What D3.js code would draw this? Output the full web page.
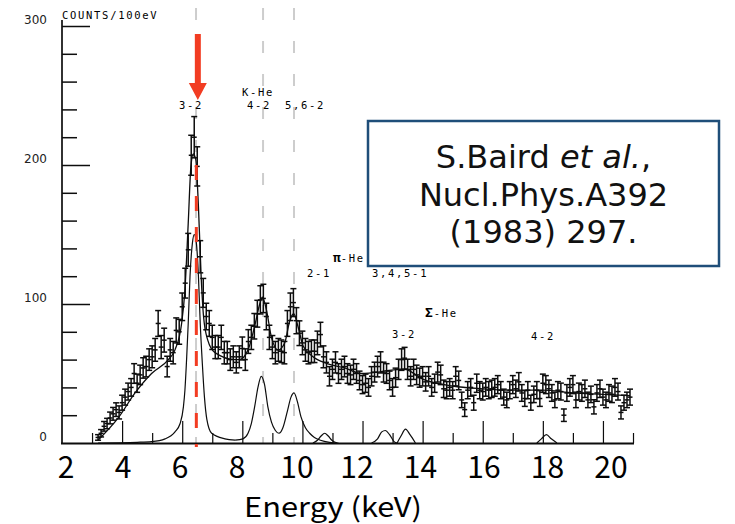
<!DOCTYPE html>
<html><head><meta charset="utf-8">
<script src="https://cdn.jsdelivr.net/npm/d3@7"></script>
<style>body{margin:0;background:#fff}svg{display:block}</style>
</head><body>
<svg id="c" width="735" height="524"></svg>
<script>
// ---------- data ----------
const energies = [
 3.2,3.3,3.4,3.5,3.6,3.7,3.8,3.9,
 4.0,4.1,4.2,4.3,4.4,4.5,4.6,4.7,4.8,4.9,
 5.0,5.1,5.2,5.3,5.4,5.5,5.6,5.7,5.8,5.9,
 6.0,6.1,6.2,6.3,6.4,6.5,6.6,6.7,6.8,6.9,
 7.0,7.1,7.2,7.3,7.4,7.5,7.6,7.7,7.8,7.9,
 8.0,8.1,8.2,8.3,8.4,8.5,8.6,8.7,8.8,8.9,
 9.0,9.1,9.2,9.3,9.4,9.5,9.6,9.7,9.8,9.9,
 10.0,10.1,10.2,10.3,10.4,10.5,10.6,10.7,10.8,10.9,
 11.0,11.1,11.2,11.3,11.4,11.5,11.6,11.7,11.8,11.9,
 12.0,12.1,12.2,12.3,12.4,12.5,12.6,12.7,12.8,12.9,
 13.0,13.1,13.2,13.3,13.4,13.5,13.6,13.7,13.8,13.9,
 14.0,14.1,14.2,14.3,14.4,14.5,14.6,14.7,14.8,14.9,
 15.0,15.1,15.2,15.3,15.4,15.5,15.6,15.7,15.8,15.9,
 16.0,16.1,16.2,16.3,16.4,16.5,16.6,16.7,16.8,16.9,
 17.0,17.1,17.2,17.3,17.4,17.5,17.6,17.7,17.8,17.9,
 18.0,18.1,18.2,18.3,18.4,18.5,18.6,18.7,18.8,18.9,
 19.0,19.1,19.2,19.3,19.4,19.5,19.6,19.7,19.8,19.9,
 20.0,20.1,20.2,20.3,20.4,20.5,20.6,20.7,20.8,20.9];
const counts = [
 4,7,12,14,18,21,24,22,
 29,33,37,40,50,43,49,54,55,60,
 62,67,86,69,74,55,67,65,81,80,
 98,115,139,207,220,199,134,108,91,86,
 76,69,69,76,65,65,60,62,58,62,
 68,60,73,76,84,93,103,104,91,76,
 69,65,67,66,65,86,98,101,88,79,
 72,67,65,66,66,72,78,62,58,48,
 53,58,50,53,55,50,49,53,50,45,
 42,43,40,48,51,55,58,51,50,45,
 40,47,53,60,61,53,48,53,49,47,
 48,44,48,40,43,51,49,39,38,40,
 38,48,45,31,24,38,40,29,43,38,
 37,40,38,39,40,42,38,33,31,38,
 42,39,44,36,32,38,29,35,38,32,
 43,42,39,36,31,38,37,20,36,40,
 42,31,37,36,39,31,35,26,36,39,
 33,31,36,35,40,37,22,29,31,33];

// total fit curve [keV, counts]
const fitTotal = [[3.2,2],[3.87,18],[4.43,36],[4.98,50],[5.54,60],[5.76,67],[5.98,86],[6.09,110],
 [6.2,158],[6.29,199],[6.37,208],[6.45,204],[6.54,170],[6.63,120],[6.71,91],[6.85,74],[7.09,65],
 [7.76,60],[7.9,60],[8.19,67],[8.41,84],[8.58,100],[8.67,105],[8.8,96],[8.97,76],[9.19,67],[9.41,72],
 [9.58,88],[9.71,93],[9.85,84],[10.02,70],[10.3,63],[10.85,57],[11.41,54],[11.96,50],[12.52,51],
 [12.8,52],[13.4,53],[14,46],[15,41],[16,39],[17,38],[18,38],[19,36],[20,35],[20.9,34]];

// fitted line components [keV, counts]
const compK32 = [[3.2,0],[4.5,0.5],[4.98,1],[5.43,3],[5.76,8],[5.93,14],[6.04,26],[6.09,38],[6.15,62],
 [6.2,86],[6.26,120],[6.34,144],[6.40,150],[6.47,144],[6.54,120],[6.60,86],[6.67,57],[6.74,33],
 [6.82,17],[6.98,7],[7.42,3],[7.76,2]];
const compK4256 = [[7.76,2],[8.02,3],[8.19,7],[8.3,14],[8.41,26],[8.52,40],[8.63,48],[8.74,42],[8.85,26],
 [8.97,15],[9.1,9],[9.22,7],[9.35,11],[9.5,23],[9.62,33],[9.72,36],[9.83,30],[9.95,19],[10.1,11],
 [10.24,7],[10.4,4],[10.6,2],[10.9,0.5],[11.2,0]];
const compPi21 = [[10.35,0],[10.5,2],[10.62,5],[10.74,7],[10.86,5],[10.98,2],[11.15,0]];
const compSig32a = [[12.3,0],[12.5,3],[12.64,8],[12.76,9],[12.9,6],[13.05,1],[13.15,0]];
const compSig32b = [[13.15,0],[13.28,5],[13.43,10],[13.58,6],[13.76,0]];
const compSig42 = [[17.8,0],[17.95,3],[18.12,6],[18.28,3],[18.47,0]];

const transitionLines = [6.46, 8.69, 9.72];   // gray guide lines (keV)
const markedLine = 6.47;                         // red dashed line (keV)
const yMajorTicks = [100, 200, 300];
const yMinorTicks = [20,40,60,80,120,140,160,180,220,240,260,280];
const yTickLabels = [0, 100, 200, 300];
const xLongTicks = [4,6,8,10,12,14,16,18,20];
const xShortTicks = [3,5,7,9,11,13,15,17,19,21];
const xTickLabels = [2,4,6,8,10,12,14,16,18,20];

// ---------- drawing ----------
const svg = d3.select("#c");
const x = d3.scaleLinear().domain([2, 21]).range([62, 633]);
const y = d3.scaleLinear().domain([0, 300]).range([443, 26]);
// slide's own energy labels sit at slightly different positions
const xLab = d3.scaleLinear().domain([2, 8, 12, 20]).range([66, 237, 357, 611]);

// gray guide lines
svg.append("g").selectAll("line").data(transitionLines).join("line")
  .attr("x1", d => x(d)).attr("x2", d => x(d)).attr("y1", 8).attr("y2", 443)
  .attr("stroke", "#cdcdcd").attr("stroke-width", 2).attr("stroke-dasharray", "12,21");

// axes of the scan
const ink = "#0d0d0d";
const gy1 = svg.append("g").attr("transform", "translate(62,0)")
  .call(d3.axisRight(y).tickValues(yMajorTicks).tickSize(28).tickSizeOuter(0).tickFormat(""));
const gy2 = svg.append("g").attr("transform", "translate(62,0)")
  .call(d3.axisRight(y).tickValues(yMinorTicks).tickSize(15).tickSizeOuter(0).tickFormat(""));
[gy1, gy2].forEach(g => { g.select(".domain").remove(); g.selectAll("line").attr("stroke", ink).attr("stroke-width", 1.5); });
svg.append("line").attr("x1", 62).attr("x2", 62).attr("y1", 20).attr("y2", 444)
  .attr("stroke", ink).attr("stroke-width", 1.7);

const gx1 = svg.append("g").attr("transform", "translate(0,443)")
  .call(d3.axisTop(x).tickValues(xLongTicks).tickSize(22).tickSizeOuter(0).tickFormat(""));
const gx2 = svg.append("g").attr("transform", "translate(0,443)")
  .call(d3.axisTop(x).tickValues(xShortTicks).tickSize(10).tickSizeOuter(0).tickFormat(""));
[gx1, gx2].forEach(g => { g.select(".domain").remove(); g.selectAll("line").attr("stroke", ink).attr("stroke-width", 1.2); });
svg.append("line").attr("x1", 61).attr("x2", x(21) + 1).attr("y1", 443.5).attr("y2", 443.5)
  .attr("stroke", ink).attr("stroke-width", 2.2);

// y tick labels
svg.append("g").selectAll("text").data(yTickLabels).join("text")
  .attr("x", 47).attr("y", d => y(d) - 2).attr("text-anchor", "end")
  .attr("font-family", "DejaVu Sans, Verdana, sans-serif").attr("font-size", 12).attr("fill", "#222")
  .text(d => d);

// component curves
const line = d3.line().x(d => x(d[0])).y(d => y(d[1])).curve(d3.curveMonotoneX);
[compK32, compK4256, compPi21, compSig32a, compSig32b, compSig42].forEach(c => {
  svg.append("path").attr("d", line(c)).attr("fill", "none").attr("stroke", ink).attr("stroke-width", 1.2);
});
// total fit
svg.append("path").attr("d", line(fitTotal)).attr("fill", "none").attr("stroke", ink).attr("stroke-width", 1.3);

// data points with Poisson error bars
const pts = energies.map((e, i) => ({ e, c: counts[i], s: Math.sqrt(counts[i]) }));
const gp = svg.append("g").attr("stroke", ink).attr("stroke-width", 1.5).attr("fill", "none");
const pg = gp.selectAll("g").data(pts).join("g").attr("transform", d => `translate(${x(d.e)},0)`);
pg.append("line").attr("y1", d => y(d.c + d.s)).attr("y2", d => y(Math.max(0, d.c - d.s)));
pg.append("line").attr("x1", -3).attr("x2", 3).attr("y1", d => y(d.c + d.s)).attr("y2", d => y(d.c + d.s));
pg.append("line").attr("x1", -3).attr("x2", 3).attr("y1", d => y(Math.max(0, d.c - d.s))).attr("y2", d => y(Math.max(0, d.c - d.s)));
pg.append("line").attr("x1", -2.5).attr("x2", 2.5).attr("y1", d => y(d.c)).attr("y2", d => y(d.c));

// red marker line + arrow
svg.append("line").attr("x1", x(markedLine)).attr("x2", x(markedLine)).attr("y1", 165).attr("y2", 447)
  .attr("stroke", "#f23c22").attr("stroke-width", 3).attr("stroke-dasharray", "15,16");
const ax = x(markedLine) + 1.5;
svg.append("path")
  .attr("d", `M${ax-3},34 L${ax+3},34 L${ax+3},83 L${ax+9},83 L${ax},100 L${ax-9},83 L${ax-3},83 Z`)
  .attr("fill", "#f23c22");

// scan annotations (typewriter style)
function ann(t, px, py) {
  return svg.append("text").attr("x", px).attr("y", py)
    .attr("font-family", "DejaVu Sans Mono, monospace").attr("font-size", 10.5)
    .attr("letter-spacing", 1.7).attr("fill", "#000").text(t);
}
ann("COUNTS/100eV", 62, 19);
ann("3-2", 179, 109);
ann("K-He", 242, 96);
ann("4-2", 247, 109);
ann("5,6-2", 285, 109);
const pi = ann("", 333, 262);
pi.append("tspan").attr("font-weight", "bold").attr("font-size", 13).attr("letter-spacing", 0).text("π");
pi.append("tspan").text("-He");
ann("2-1", 307, 277);
ann("3,4,5-1", 372, 277);
const sg = ann("", 425, 317);
sg.append("tspan").attr("font-weight", "bold").attr("font-size", 13).attr("letter-spacing", 1).text("Σ");
sg.append("tspan").text("-He");
ann("3-2", 392, 338);
ann("4-2", 531, 340);

// slide's energy axis labels
svg.append("g").selectAll("text").data(xTickLabels).join("text")
  .attr("x", d => xLab(d)).attr("y", 478).attr("text-anchor", "middle")
  .attr("font-family", "Noto Sans CJK JP, sans-serif").attr("font-size", 30).attr("fill", "#000")
  .text(d => d);
svg.append("text").attr("x", 333).attr("y", 517).attr("text-anchor", "middle")
  .attr("font-family", "Noto Sans CJK JP, sans-serif").attr("font-size", 27).attr("fill", "#000")
  .attr("textLength", 178).attr("lengthAdjust", "spacingAndGlyphs")
  .text("Energy (keV)");

// reference box
svg.append("rect").attr("x", 368).attr("y", 121).attr("width", 351).attr("height", 145)
  .attr("fill", "#fff").attr("stroke", "#1f4e79").attr("stroke-width", 2.5);
const ref = svg.append("text").attr("text-anchor", "middle")
  .attr("font-family", "DejaVu Sans, Verdana, sans-serif").attr("font-size", 32).attr("fill", "#111");
const l1 = ref.append("tspan").attr("x", 543.5).attr("y", 168);
l1.append("tspan").text("S.Baird ");
l1.append("tspan").attr("font-style", "italic").text("et al.");
l1.append("tspan").text(",");
ref.append("tspan").attr("x", 543.5).attr("y", 206).text("Nucl.Phys.A392");
ref.append("tspan").attr("x", 543.5).attr("y", 243).text("(1983) 297.");
</script>
</body></html>
